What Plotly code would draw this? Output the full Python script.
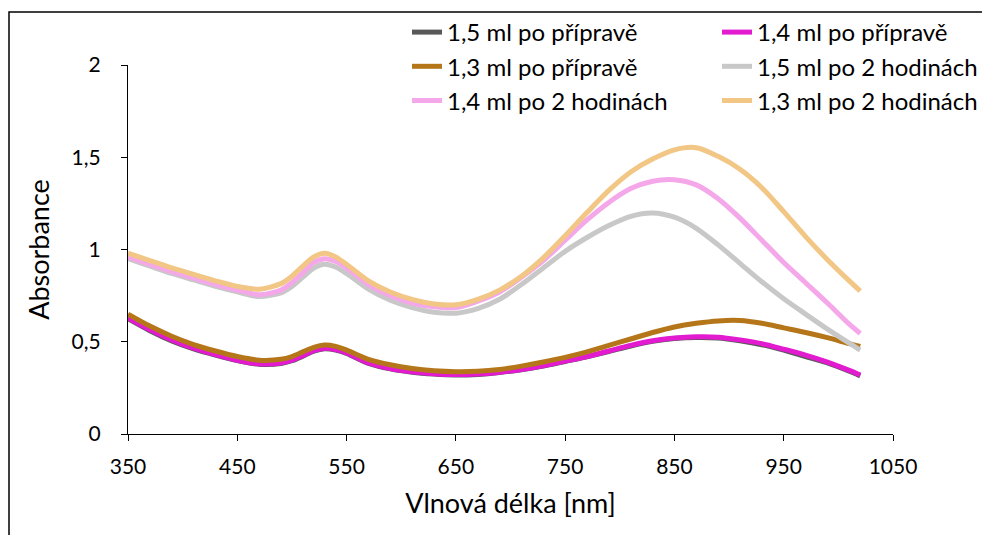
import plotly.graph_objects as go

wavelength = [350, 370, 390, 410, 430, 450, 470, 490, 500, 510, 520, 530, 540, 550, 570, 590, 610, 630,
              650, 670, 690, 710, 730, 750, 770, 790, 810, 830, 850, 870, 890, 910, 930, 950, 970, 990,
              1010, 1020]

a15_prep = [0.625, 0.56, 0.505, 0.462, 0.428, 0.398, 0.378, 0.382, 0.397, 0.422, 0.449, 0.462, 0.455,
            0.437, 0.383, 0.353, 0.335, 0.325, 0.32, 0.323, 0.333, 0.348, 0.368, 0.393, 0.418, 0.447,
            0.477, 0.502, 0.517, 0.523, 0.52, 0.505, 0.484, 0.455, 0.42, 0.385, 0.34, 0.315]
a14_prep = [0.63, 0.565, 0.51, 0.465, 0.43, 0.40, 0.38, 0.385, 0.40, 0.425, 0.452, 0.465, 0.458,
            0.44, 0.385, 0.355, 0.337, 0.327, 0.322, 0.325, 0.335, 0.35, 0.37, 0.395, 0.42, 0.45,
            0.48, 0.505, 0.52, 0.527, 0.525, 0.51, 0.49, 0.46, 0.428, 0.39, 0.345, 0.32]
a13_prep = [0.65, 0.585, 0.53, 0.485, 0.45, 0.42, 0.40, 0.405, 0.42, 0.445, 0.47, 0.482, 0.475,
            0.455, 0.405, 0.375, 0.355, 0.343, 0.338, 0.34, 0.35, 0.368, 0.39, 0.415, 0.445, 0.48,
            0.515, 0.55, 0.58, 0.60, 0.613, 0.615, 0.60, 0.575, 0.55, 0.522, 0.49, 0.475]
a15_2h = [0.95, 0.91, 0.87, 0.835, 0.80, 0.77, 0.745, 0.765, 0.80, 0.85, 0.90, 0.92, 0.905,
          0.87, 0.785, 0.725, 0.685, 0.66, 0.655, 0.68, 0.73, 0.81, 0.90, 0.99, 1.065, 1.13,
          1.18, 1.198, 1.175, 1.115, 1.025, 0.925, 0.825, 0.733, 0.65, 0.568, 0.492, 0.455]
a14_2h = [0.96, 0.92, 0.88, 0.845, 0.81, 0.78, 0.755, 0.78, 0.82, 0.875, 0.93, 0.95, 0.935,
          0.90, 0.81, 0.75, 0.71, 0.69, 0.685, 0.72, 0.77, 0.85, 0.94, 1.05, 1.16, 1.255,
          1.33, 1.37, 1.378, 1.35, 1.275, 1.17, 1.05, 0.93, 0.82, 0.71, 0.595, 0.545]
a13_2h = [0.98, 0.94, 0.90, 0.865, 0.83, 0.80, 0.785, 0.815, 0.855, 0.91, 0.96, 0.98, 0.96,
          0.92, 0.83, 0.77, 0.73, 0.705, 0.70, 0.73, 0.78, 0.855, 0.955, 1.075, 1.20, 1.32,
          1.42, 1.49, 1.54, 1.552, 1.505, 1.435, 1.335, 1.205, 1.07, 0.945, 0.83, 0.775]

series_names = ["1,5 ml po přípravě", "1,4 ml po přípravě", "1,3 ml po přípravě",
                "1,5 ml po 2 hodinách", "1,4 ml po 2 hodinách", "1,3 ml po 2 hodinách"]
series_values = [a15_prep, a14_prep, a13_prep, a15_2h, a14_2h, a13_2h]
series_colors = ["#595959", "#E31BD0", "#B5761A", "#C8C8C8", "#F4A7E9", "#F2C685"]

FONT = "Lato"

fig = go.Figure()
for name, vals, col in zip(series_names, series_values, series_colors):
    fig.add_trace(go.Scatter(x=wavelength, y=vals, name=name, mode="lines",
                             line=dict(color=col, width=5, shape="spline", smoothing=0.8)))

L, R, T, B = 128, 89, 65, 101
W, H = 982, 535
pw, ph = W - L - R, H - T - B

fig.update_layout(
    width=W, height=H,
    margin=dict(l=L, r=R, t=T, b=B, pad=0, autoexpand=False),
    paper_bgcolor="white", plot_bgcolor="white",
    separators=", ",
    font=dict(family=FONT, size=18, color="#000000"),
    showlegend=True,
    legend=dict(orientation="h", x=(407 - L) / pw, xanchor="left",
                y=(H - B - 10) / ph, yanchor="top",
                entrywidth=265, entrywidthmode="pixels",
                font=dict(family=FONT, size=24, color="#000000"),
                bgcolor="rgba(0,0,0,0)", traceorder="normal", tracegroupgap=0),
    xaxis=dict(range=[350, 1050], tick0=350, dtick=100, showgrid=False, zeroline=False,
               showline=True, linecolor="#000000", linewidth=1.3,
               ticks="outside", ticklen=6, tickcolor="#000000", tickwidth=1.3,
               ticklabelstandoff=8,
               tickfont=dict(family=FONT, size=21, color="#000000"),
               title=dict(text="Vlnová délka [nm]", font=dict(family=FONT, size=27, color="#000000"),
                          standoff=16)),
    yaxis=dict(range=[0, 2], dtick=0.5, showgrid=False, zeroline=False,
               showline=True, linecolor="#000000", linewidth=1.3,
               ticks="outside", ticklen=6, tickcolor="#000000", tickwidth=1.3,
               ticklabelstandoff=16,
               tickfont=dict(family=FONT, size=21, color="#000000"),
               title=dict(text="Absorbance", font=dict(family=FONT, size=27, color="#000000"),
                          standoff=14)),
)

fig.add_shape(type="rect", xref="paper", yref="paper",
              x0=(9 - L) / pw, x1=(W + 20 - L) / pw,
              y0=(H - B - (H + 20)) / ph, y1=(H - B - 12) / ph,
              line=dict(color="#000000", width=1.5), fillcolor="rgba(0,0,0,0)", layer="below")

fig.write_html("out.html")
